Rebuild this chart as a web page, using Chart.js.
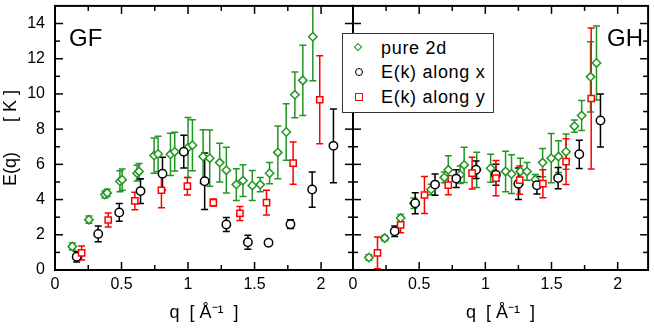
<!DOCTYPE html>
<html>
<head>
<meta charset="utf-8">
<script src="https://cdn.jsdelivr.net/npm/chart.js@4.4.1/dist/chart.umd.min.js"></script>
<style>
  body { margin: 0; background: #fff; }
  #wrap { position: relative; width: 654px; height: 329px; font-family: "Liberation Sans", Arial, sans-serif; }
  canvas { position: absolute; left: 0; top: 0; }
  .tag { position: absolute; font-size: 24px; line-height: 24px; top: 26px; }
  #legend { position: absolute; left: 342px; top: 33px; width: 152px; height: 80px; border: 1.5px solid #333;
            background: #fff; box-sizing: border-box; }
  .row { position: absolute; left: 38px; height: 22px; line-height: 22px; font-size: 18px; letter-spacing: 0.7px; white-space: nowrap; }
  .mk { position: absolute; box-sizing: border-box; }
</style>
</head>
<body>
<div id="wrap">
  <canvas id="gf" width="654" height="329"></canvas>
  <canvas id="gh" width="654" height="329"></canvas>
  <div class="tag" style="left:69px">GF</div>
  <div class="tag" style="left:607px">GH</div>
  <div id="legend">
    <span class="mk" style="left:12px;top:10px;width:6px;height:6px;border:1.5px solid rgb(34,150,34);transform:rotate(45deg)"></span>
    <div class="row" style="top:3px">pure 2d</div>
    <span class="mk" style="left:12px;top:34px;width:8px;height:8px;border:1.5px solid #000;border-radius:50%"></span>
    <div class="row" style="top:27px">E(k) along x</div>
    <span class="mk" style="left:12px;top:59px;width:8px;height:8px;border:1.5px solid #ff0000"></span>
    <div class="row" style="top:52px">E(k) along y</div>
  </div>
</div>
<script>
// ---- GF panel ----
const gfPureQ = [0.13, 0.255, 0.375, 0.392, 0.488, 0.505, 0.617, 0.632, 0.745, 0.775, 0.868, 0.90, 1.0, 1.033,
  1.113, 1.163, 1.238, 1.288, 1.363, 1.413, 1.483, 1.543, 1.613, 1.675, 1.738, 1.803, 1.863, 1.938];
const gfPureE = [1.34, 2.86, 4.29, 4.38, 5.04, 5.13, 5.5, 5.6, 6.5, 6.59, 6.57, 6.72, 6.96, 7.09,
  6.44, 6.35, 6.1, 5.67, 4.85, 5.08, 4.8, 4.85, 5.5, 6.68, 7.84, 9.95, 10.77, 13.25];
const gfPureErr = [0.2, 0.2, 0.2, 0.2, 0.6, 0.6, 0.45, 0.45, 1.0, 1.0, 1.2, 1.1, 1.7, 1.45,
  1.53, 1.6, 1.1, 1.3, 0.9, 0.9, 0.85, 0.4, 0.6, 1.5, 1.6, 1.3, 2.0, 2.5];

const gfXQ = [0.163, 0.325, 0.483, 0.643, 0.808, 0.968, 1.125, 1.288, 1.45, 1.605, 1.77, 1.933, 2.093];
const gfXE = [0.75, 2.05, 3.27, 4.48, 5.47, 6.72, 5.04, 2.58, 1.58, 1.55, 2.6, 4.57, 7.05];
const gfXErr = [0.3, 0.45, 0.5, 0.7, 0.93, 0.93, 1.6, 0.4, 0.4, 0.1, 0.25, 1.0, 2.1];

const gfYQ = [0.20, 0.40, 0.60, 0.80, 0.995, 1.19, 1.39, 1.59, 1.79, 1.99];
const gfYE = [0.97, 2.84, 3.92, 4.53, 4.76, 3.83, 3.21, 3.83, 6.07, 9.67];
const gfYErr = [0.4, 0.4, 0.5, 1.0, 0.5, 0.2, 0.4, 0.7, 1.2, 2.5];

// ---- GH panel ----
const ghPureQ = [0.12, 0.24, 0.36, 0.46, 0.59, 0.69, 0.72, 0.81, 0.84, 0.935, 1.04, 1.153, 1.198, 1.265,
  1.315, 1.378, 1.433, 1.498, 1.553, 1.61, 1.673, 1.728, 1.795, 1.84];
const ghPureE = [0.71, 1.81, 2.95, 3.79, 4.57, 5.26, 5.69, 5.41, 5.97, 5.69, 5.78, 5.6, 5.45, 5.6,
  5.6, 5.13, 6.1, 6.35, 6.44, 6.72, 8.17, 8.77, 10.97, 11.76];
const ghPureErr = [0.15, 0.15, 0.2, 0.3, 0.3, 0.3, 0.8, 0.5, 1.0, 1.0, 0.8, 1.15, 1.1, 0.75,
  0.5, 0.3, 0.8, 1.4, 0.9, 1.0, 0.35, 0.85, 2.0, 2.1];

const ghXQ = [0.315, 0.47, 0.62, 0.78, 0.93, 1.08, 1.25, 1.39, 1.55, 1.71, 1.87];
const ghXE = [2.2, 3.79, 4.85, 5.19, 5.69, 5.41, 4.9, 4.81, 5.22, 6.57, 8.49];
const ghXErr = [0.3, 0.6, 0.6, 0.5, 0.5, 0.6, 0.9, 0.5, 0.6, 0.8, 1.5];

const ghYQ = [0.185, 0.36, 0.54, 0.72, 0.90, 1.08, 1.26, 1.435, 1.61, 1.80];
const ghYE = [0.97, 2.56, 4.26, 4.82, 5.5, 5.22, 5.1, 4.9, 6.16, 9.74];
const ghYErr = [0.9, 0.45, 1.05, 0.55, 0.9, 1.0, 0.8, 0.8, 1.3, 4.0];

const GREEN = 'rgb(34,150,34)';
const FONT = '"Liberation Sans", Arial, sans-serif';

function pts(q, e) { return q.map((v, i) => ({x: v, y: e[i]})); }

function series(q, e, err, color, style, r, order) {
  return {
    data: pts(q, e), errors: err, borderColor: color, backgroundColor: '#fff',
    pointStyle: style, pointRadius: r, pointBorderWidth: 1.5, showLine: false, order: order
  };
}

// error bars drawn through the y scale
const errorBars = {
  id: 'errorBars',
  beforeDatasetsDraw(chart) {
    const {ctx, chartArea: a, scales: {y}} = chart;
    ctx.save();
    ctx.beginPath(); ctx.rect(a.left, a.top, a.width, a.height); ctx.clip();
    chart.data.datasets.forEach((ds, i) => {
      const meta = chart.getDatasetMeta(i);
      ctx.strokeStyle = ds.borderColor;
      ctx.lineWidth = 1.5;
      meta.data.forEach((p, j) => {
        const e = ds.errors[j];
        const v = ds.data[j].y;
        const t = y.getPixelForValue(v + e), b = y.getPixelForValue(v - e);
        ctx.beginPath();
        ctx.moveTo(p.x, t); ctx.lineTo(p.x, b);
        ctx.moveTo(p.x - 3.5, t); ctx.lineTo(p.x + 3.5, t);
        ctx.moveTo(p.x - 3.5, b); ctx.lineTo(p.x + 3.5, b);
        ctx.stroke();
      });
    });
    ctx.restore();
  }
};

// frame and inward ticks on all four sides
const frame = {
  id: 'frame',
  afterDatasetsDraw(chart) {
    const {ctx, chartArea: a, scales: {x, y}} = chart;
    ctx.save();
    ctx.strokeStyle = '#000';
    ctx.lineWidth = 1.5;
    const seg = (x1, y1, x2, y2) => { ctx.beginPath(); ctx.moveTo(x1, y1); ctx.lineTo(x2, y2); ctx.stroke(); };
    for (let k = 1; k * 0.25 < x.max; k++) {
      const px = x.getPixelForValue(k * 0.25);
      const len = k % 2 === 0 ? 8 : 5;
      seg(px, a.bottom, px, a.bottom - len);
      seg(px, a.top, px, a.top + len);
    }
    for (let k = 1; k < y.max; k++) {
      const py = y.getPixelForValue(k);
      const len = k % 2 === 0 ? 8 : 5;
      seg(a.left, py, a.left + len, py);
      seg(a.right, py, a.right - len, py);
    }
    ctx.lineWidth = 2;
    ctx.strokeRect(a.left, a.top, a.width, a.height);
    ctx.restore();
  }
};

function xScale(max) {
  return {
    type: 'linear', min: 0, max: max,
    grid: {display: false, drawTicks: false}, border: {display: false},
    ticks: {
      stepSize: 0.5, includeBounds: false, autoSkip: false, maxRotation: 0, padding: 5, color: '#000',
      font: {family: FONT, size: 16},
      callback: v => String(v)
    },
    title: {display: true, text: 'q  [ Å⁻¹  ]', color: '#000', font: {family: FONT, size: 18}, padding: {top: 0, bottom: 5}},
    afterFit: s => { s.height = 59; s.paddingLeft = 0; s.paddingRight = 0; }
  };
}

function yScale(show) {
  return {
    type: 'linear', min: 0, max: 15, display: show,
    grid: {display: false, drawTicks: false}, border: {display: false},
    ticks: {
      stepSize: 2, includeBounds: false, autoSkip: false, padding: 10, color: '#000',
      font: {family: FONT, size: 16},
      callback: v => String(v)
    },
    title: {display: true, text: 'E(q)      [ K ]', color: '#000', font: {family: FONT, size: 18}, padding: {top: 0, bottom: 0}},
    afterFit: s => { s.width = show ? 55 : 0; s.paddingTop = 0; s.paddingBottom = 0; }
  };
}

function makeChart(id, sets, xmax, showY, pad) {
  new Chart(document.getElementById(id), {
    type: 'scatter',
    data: {datasets: sets},
    options: {
      responsive: false, animation: false, devicePixelRatio: 1, events: [],
      layout: {padding: pad},
      plugins: {legend: {display: false}, tooltip: {enabled: false}},
      scales: {x: xScale(xmax), y: yScale(showY)}
    },
    plugins: [errorBars, frame]
  });
}

makeChart('gf', [
  series(gfPureQ, gfPureE, gfPureErr, GREEN, 'rectRot', 4.2, 3),
  series(gfXQ, gfXE, gfXErr, '#000', 'circle', 4.2, 2),
  series(gfYQ, gfYE, gfYErr, '#f00', 'rect', 4.4, 1)
], 2.24, true, {left: 0, right: 301, top: 2, bottom: 0});

makeChart('gh', [
  series(ghPureQ, ghPureE, ghPureErr, GREEN, 'rectRot', 4.2, 3),
  series(ghXQ, ghXE, ghXErr, '#000', 'circle', 4.2, 2),
  series(ghYQ, ghYE, ghYErr, '#f00', 'rect', 4.4, 1)
], 2.23, false, {left: 353, right: 5, top: 2, bottom: 0});
</script>
</body>
</html>
